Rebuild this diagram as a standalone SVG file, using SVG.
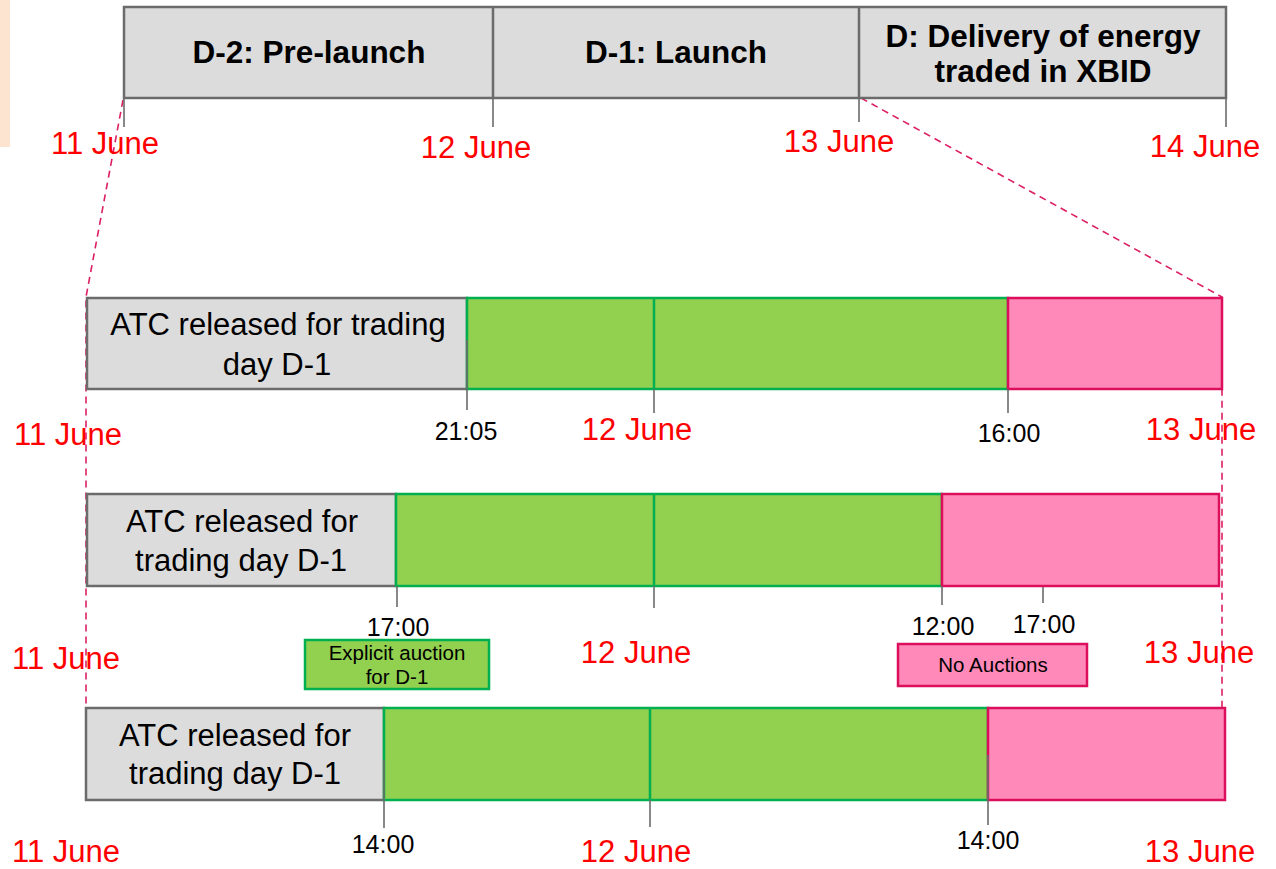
<svg xmlns="http://www.w3.org/2000/svg" width="1276" height="869" viewBox="0 0 1276 869">
<style>
.bar{fill:#dcdcdc;stroke:#6b6b6b;stroke-width:2.5}
.grn{fill:#92d050;stroke:#00b050;stroke-width:2.5}
.pnk{fill:#ff8ab9;stroke:#dc0f5c;stroke-width:2.5}
.tick{stroke:#6b6b6b;stroke-width:1.6;fill:none}
.dash{stroke:#dc1e64;stroke-width:1.6;fill:none;stroke-dasharray:7 5}
text{font-family:"Liberation Sans",Arial,sans-serif;text-anchor:middle}
.ttl{font-size:31.5px;font-weight:bold;fill:#000}
.date{font-size:31px;fill:#ff0000}
.time{font-size:25px;fill:#000}
.atc{font-size:31px;fill:#000}
.small{font-size:20.5px;fill:#000}
</style>
<rect x="0" y="0" width="10" height="147" fill="#fde4d0"/>
<g id="connectors">
<path class="dash" d="M123,100 L86,297 L86,707"/>
<path class="dash" d="M861,98 L1222,297 L1222,707"/>
</g>
<g id="top-bar">
<rect class="bar" x="124" y="7" width="1102" height="91"/>
<line class="tick" x1="493" y1="7" x2="493" y2="98" style="stroke-width:2.5"/>
<line class="tick" x1="859" y1="7" x2="859" y2="98" style="stroke-width:2.5"/>
<line class="tick" x1="124" y1="98" x2="124" y2="127"/>
<line class="tick" x1="493" y1="98" x2="493" y2="127"/>
<line class="tick" x1="859" y1="98" x2="859" y2="122"/>
<line class="tick" x1="1226" y1="98" x2="1226" y2="127"/>
<text class="ttl" x="309" y="63">D-2: Pre-launch</text>
<text class="ttl" x="676" y="63">D-1: Launch</text>
<text class="ttl" x="1043" y="47">D: Delivery of energy</text>
<text class="ttl" x="1043" y="82">traded in XBID</text>
<text class="date" x="105" y="154">11 June</text>
<text class="date" x="476" y="158">12 June</text>
<text class="date" x="839" y="152">13 June</text>
<text class="date" x="1205" y="157">14 June</text>
</g>
<g id="row1">
<rect class="bar" x="87" y="298" width="380" height="91"/>
<rect class="grn" x="467" y="298" width="541" height="91"/>
<line x1="654" y1="298" x2="654" y2="389" stroke="#00b050" stroke-width="2.5"/>
<rect class="pnk" x="1008" y="298" width="214" height="91"/>
<line class="tick" x1="467" y1="340" x2="467" y2="410"/>
<line class="tick" x1="654" y1="389" x2="654" y2="413"/>
<line class="tick" x1="1008" y1="389" x2="1008" y2="413"/>
<text class="atc" x="278" y="335">ATC released for trading</text>
<text class="atc" x="277" y="375">day D-1</text>
<text class="time" x="466" y="440">21:05</text>
<text class="time" x="1009" y="442">16:00</text>
<text class="date" x="68" y="445">11 June</text>
<text class="date" x="637" y="440">12 June</text>
<text class="date" x="1201" y="440">13 June</text>
</g>
<g id="row2">
<rect class="bar" x="87" y="494" width="309" height="92"/>
<rect class="grn" x="396" y="494" width="546" height="92"/>
<line x1="654" y1="494" x2="654" y2="586" stroke="#00b050" stroke-width="2.5"/>
<rect class="pnk" x="942" y="494" width="277" height="92"/>
<line class="tick" x1="397" y1="586" x2="397" y2="607"/>
<line class="tick" x1="654" y1="586" x2="654" y2="608"/>
<line class="tick" x1="942" y1="586" x2="942" y2="605"/>
<line class="tick" x1="1043" y1="587" x2="1043" y2="603"/>
<text class="atc" x="242" y="532">ATC released for</text>
<text class="atc" x="241" y="571">trading day D-1</text>
<text class="time" x="398" y="636">17:00</text>
<text class="time" x="943" y="635">12:00</text>
<text class="time" x="1044" y="633">17:00</text>
<text class="date" x="66" y="669">11 June</text>
<text class="date" x="636" y="663">12 June</text>
<text class="date" x="1199" y="663">13 June</text>
</g>
<g id="explicit-auction">
<rect class="grn" x="305" y="640" width="184" height="49"/>
<text class="small" x="397" y="660">Explicit auction</text>
<text class="small" x="397" y="684">for D-1</text>
</g>
<g id="no-auctions">
<rect class="pnk" x="898" y="644" width="189" height="42"/>
<text class="small" x="993" y="672">No Auctions</text>
</g>
<g id="row3">
<rect class="bar" x="86" y="708" width="298" height="92"/>
<rect class="grn" x="384" y="708" width="604" height="92"/>
<line x1="650" y1="708" x2="650" y2="800" stroke="#00b050" stroke-width="2.5"/>
<rect class="pnk" x="988" y="708" width="237" height="92"/>
<line class="tick" x1="384" y1="760" x2="384" y2="828"/>
<line class="tick" x1="650" y1="800" x2="650" y2="827"/>
<line class="tick" x1="988" y1="755" x2="988" y2="825"/>
<text class="atc" x="235" y="746">ATC released for</text>
<text class="atc" x="235" y="784">trading day D-1</text>
<text class="time" x="383" y="853">14:00</text>
<text class="time" x="988" y="849">14:00</text>
<text class="date" x="66" y="862">11 June</text>
<text class="date" x="636" y="862">12 June</text>
<text class="date" x="1200" y="862">13 June</text>
</g>
</svg>
